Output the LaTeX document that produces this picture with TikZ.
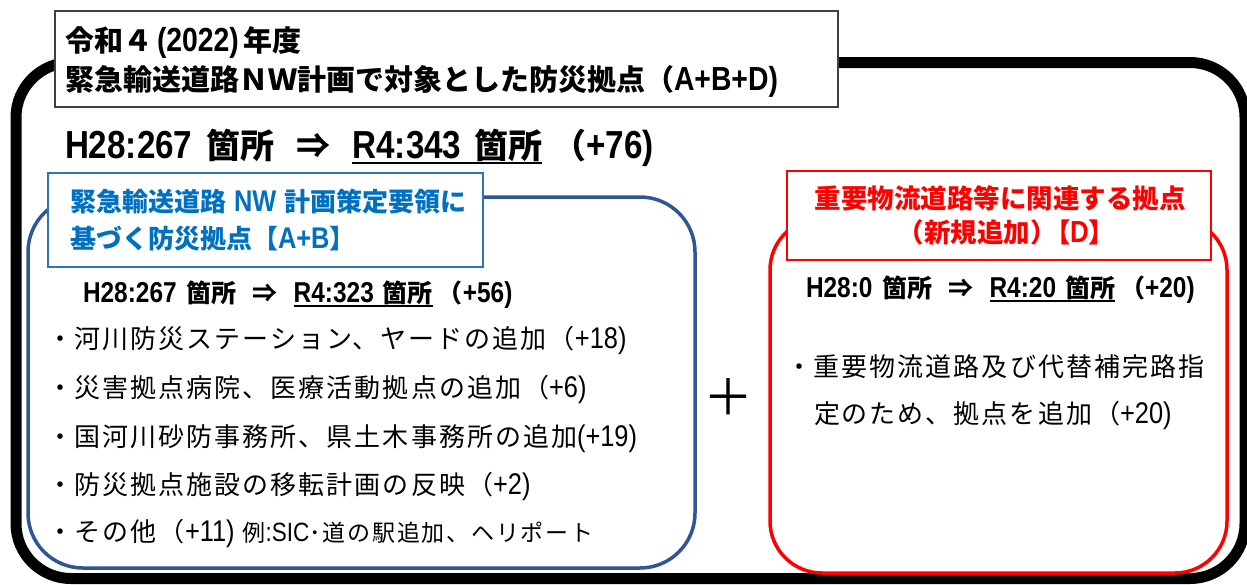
\documentclass[tikz,border=0pt]{standalone}
\usepackage{fontspec}
\newfontfamily\jp{Noto Sans CJK JP}
\newfontfamily\jpsp[LetterSpace=7.7]{Noto Sans CJK JP}
\newfontfamily\lat[FakeStretch=0.85,Scale=1.15]{Liberation Sans}
\newcommand\myul[1]{\setbox0\hbox{#1}\rlap{\rule[-0.185em]{\wd0}{0.07em}}\box0}
\definecolor{blueline}{RGB}{47,85,151}
\definecolor{bluelabel}{RGB}{46,117,182}
\definecolor{bluetxt}{RGB}{0,112,192}
\definecolor{redc}{RGB}{255,0,0}
\definecolor{titleline}{RGB}{64,64,64}
\begin{document}
\begin{tikzpicture}[x=1pt,y=-1pt,
  every node/.style={inner sep=0pt,outer sep=0pt},
  txt/.style={anchor=base west},
  ctr/.style={anchor=base},
  ttl/.style={font=\jp\bfseries\fontsize{29}{32}\selectfont},
  big/.style={font=\jp\bfseries\fontsize{34}{38}\selectfont},
  hd/.style={font=\jp\bfseries\fontsize{26}{30}\selectfont},
  rhd/.style={font=\jp\bfseries\fontsize{26.5}{30}\selectfont},
  subl/.style={font=\jp\bfseries\fontsize{25}{28}\selectfont},
  itm/.style={font=\jpsp\fontsize{26}{30}\selectfont},
  framebox/.style={draw=black, line width=11pt, rounded corners=55pt, anchor=north west},
  titlebox/.style={draw=titleline, fill=white, line width=1.3pt, anchor=north west},
  bluebox/.style={draw=blueline, line width=3.5pt, rounded corners=55pt, anchor=north west},
  bluelab/.style={draw=bluelabel, fill=white, line width=1.5pt, anchor=north west},
  redbox/.style={draw=redc, line width=3.5pt, rounded corners=52pt, anchor=north west},
  redlab/.style={draw=redc, fill=white, line width=1.2pt, anchor=north west}
]
\useasboundingbox (0,0) rectangle (1247,584);
% frames
\node[framebox, minimum width=1229pt, minimum height=516pt] (frame) at (16,62.5) {};
\node[titlebox, minimum width=783pt, minimum height=96pt] (tbox) at (55,11) {};
\node[bluebox, minimum width=667pt, minimum height=371pt] (bbox) at (28,197) {};
\node[bluelab, minimum width=435pt, minimum height=94pt] (blab) at (48,173) {};
\node[redbox, minimum width=457pt, minimum height=355pt] (rbox) at (770,218) {};
\node[redlab, minimum width=424pt, minimum height=89pt] (rlab) at (787,171) {};
% title
\node[txt,ttl] (t1) at (65,51) {令和４\hspace{5pt}{\lat (2022)}\hspace{5pt}年度};
\node[txt,ttl] (t2) at (65,90) {緊急輸送道路ＮＷ計画で対象とした防災拠点（{\lat A+B+D)}};
\node[txt,big] (main) at (65,158) {{\lat H28:267}\hspace{14pt}箇所\hspace{22pt}⇒\hspace{22pt}\myul{{\lat R4:343}\hspace{13pt}箇所}\hspace{10pt}（{\lat +76)}};
% blue part
\node[txt,hd,text=bluetxt] (bh1) at (70,211) {緊急輸送道路\hspace{8pt}{\lat NW}\hspace{8pt}計画策定要領に};
\node[txt,hd,text=bluetxt] (bh2) at (70,248) {基づく防災拠点【{\lat A+B}】};
\node[txt,subl] (bs) at (83,302) {{\lat H28:267}\hspace{10pt}箇所\hspace{16pt}⇒\hspace{16pt}\myul{{\lat R4:323}\hspace{9pt}箇所}\hspace{5pt}（{\lat +56)}};
\node[txt,itm] (b1) at (47,348) {・河川防災ステーション、ヤードの追加（{\lat +18)}};
\node[txt,itm] (b2) at (47,397) {・災害拠点病院、医療活動拠点の追加（{\lat +6)}};
\node[txt,itm] (b3) at (47,446) {・国河川砂防事務所、県土木事務所の追加{\lat (+19)}};
\node[txt,itm] (b4) at (47,494) {・防災拠点施設の移転計画の反映（{\lat +2)}};
\node[txt,itm] (b5) at (47,541) {・その他（{\lat +11)}\hspace{8pt}{\fontsize{23}{26}\selectfont 例{\lat :SIC}･道の駅追加、ヘリポート}};
% plus
\node[font=\jp\fontsize{50}{50}\selectfont] (plus) at (728,397) {＋};
% red part
\node[ctr,rhd,text=redc] (rh1) at (1000,208) {重要物流道路等に関連する拠点};
\node[ctr,rhd,text=redc] (rh2) at (1000,242) {（新規追加）\addfontfeature{RawFeature=+palt}【{\lat D}】};
\node[txt,subl] (rs) at (806,297) {{\lat H28:0}\hspace{10pt}箇所\hspace{16pt}⇒\hspace{16pt}\myul{{\lat R4:20}\hspace{9pt}箇所}\hspace{5pt}（{\lat +20)}};
\node[txt,itm] (r1) at (786,376) {・重要物流道路及び代替補完路指};
\node[txt,itm] (r2) at (814,423) {定のため、拠点を追加（{\lat +20)}};
\end{tikzpicture}
\end{document}
